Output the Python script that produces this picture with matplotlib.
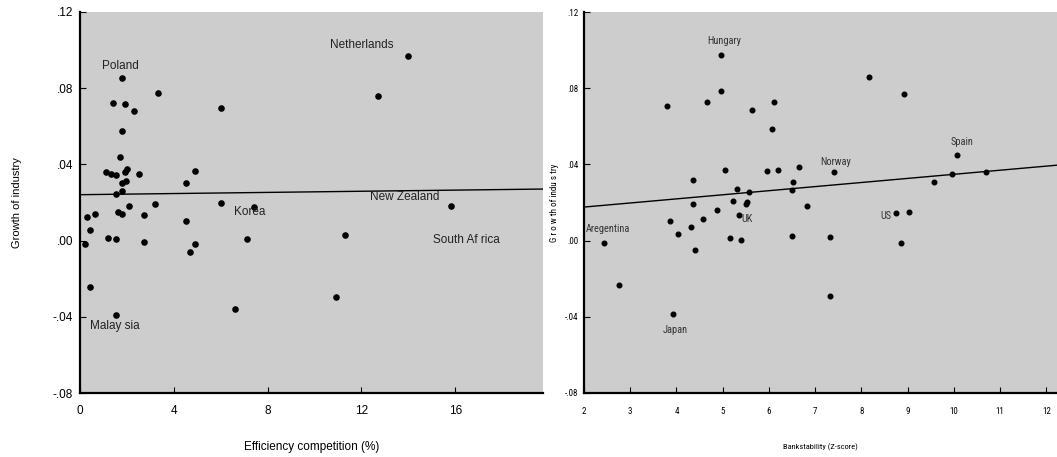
import matplotlib
matplotlib.use("Agg")
import matplotlib.pyplot as plt
import numpy as np

# Painel esquerdo: competicao de eficiencia vs crescimento da industria
eff_x = [14.0, 1.80, 3.31, 12.69, 1.41, 1.92, 2.30, 6.01, 1.80, 1.72,
         1.11, 1.31, 1.52, 2.02, 1.92, 2.53, 4.90, 4.51, 1.80, 1.97,
         1.80, 1.52, 3.20, 2.10, 6.01, 7.42, 15.81, 1.61, 1.80, 2.72,
         0.63, 0.31, 4.51, 0.41, 1.21, 1.52, 2.72, 0.21, 4.90, 4.70,
         7.12, 11.30, 0.41, 10.90, 6.61, 1.52]
eff_y = [0.0969, 0.0855, 0.0776, 0.0759, 0.0720, 0.0718, 0.0680, 0.0696, 0.0575, 0.0437,
         0.0360, 0.0350, 0.0343, 0.0374, 0.0358, 0.0348, 0.0364, 0.0302, 0.0302, 0.0311,
         0.0260, 0.0245, 0.0192, 0.0182, 0.0198, 0.0175, 0.0182, 0.0152, 0.0142, 0.0133,
         0.0140, 0.0124, 0.0103, 0.0058, 0.0016, 0.0009, -0.0007, -0.0016, -0.0019, -0.0059,
         0.0009, 0.0028, -0.0241, -0.0297, -0.0358, -0.0392]
eff_fit = (0.0241, 0.00015)  # intercepto, inclinacao
eff_labels = ["Netherlands", "Poland", "New Zealand", "Korea", "South Af rica", "Malay sia"]
eff_label_pos = [(12.0, 0.1027), (1.74, 0.0918), (13.86, 0.0227), (7.25, 0.0148),
                 (16.46, 0.0005), (1.49, -0.0446)]

# Painel direito: estabilidade bancaria vs crescimento da industria
bank_x = [4.97, 4.96, 3.79, 4.65, 5.63, 6.10, 6.06, 8.16, 8.92, 5.06,
          5.95, 6.19, 6.64, 7.40, 10.07, 9.95, 10.69, 9.56, 4.35, 6.52,
          5.31, 5.56, 6.49, 5.23, 5.53, 5.51, 4.35, 6.82, 4.87, 5.36,
          4.58, 3.86, 8.74, 9.02, 4.31, 2.43, 4.03, 5.15, 5.40, 4.39,
          6.49, 7.31, 8.86, 2.76, 3.93, 7.33]
bank_y = [0.0976, 0.0785, 0.0705, 0.0728, 0.0687, 0.0729, 0.0586, 0.0860, 0.0768, 0.0372,
          0.0366, 0.0368, 0.0384, 0.0358, 0.0447, 0.0351, 0.0358, 0.0310, 0.0319, 0.0310,
          0.0271, 0.0255, 0.0267, 0.0208, 0.0204, 0.0194, 0.0190, 0.0183, 0.0159, 0.0134,
          0.0114, 0.0101, 0.0143, 0.0148, 0.0070, -0.0010, 0.0033, 0.0016, 0.0002, -0.0051,
          0.0025, 0.0017, -0.0012, -0.0234, -0.0384, -0.0290]
bank_fit = (0.0133, 0.00215)
bank_labels = ["Hungary", "Norway", "Spain", "UK", "US", "Aregentina", "Japan"]
bank_label_pos = [(5.04, 0.1049), (7.45, 0.0412), (10.17, 0.0515), (5.53, 0.0115),
                  (8.53, 0.0127), (2.51, 0.0063), (3.97, -0.047)]

y_ticks = [-0.08, -0.04, 0.0, 0.04, 0.08, 0.12]
y_ticklabels = ["-.08", "-.04", ".00", ".04", ".08", ".12"]
eff_ticks = [0, 4, 8, 12, 16]
bank_ticks = list(range(2, 13))

fundo = "#cdcdcd"
sans = ["Liberation Sans", "DejaVu Sans"]
narrow = ["Roboto Condensed", "DejaVu Sans"]

fig = plt.figure(figsize=(10.57, 4.57), dpi=100)
ax1 = fig.add_axes([80 / 1057, 1 - 393 / 457, 463 / 1057, 381 / 457])
ax2 = fig.add_axes([584 / 1057, 1 - 393 / 457, 473 / 1057, 381 / 457])


def estilo(ax, familia, tam):
    ax.set_facecolor(fundo)
    for lado in ["top", "right"]:
        ax.spines[lado].set_visible(False)
    for lado in ["left", "bottom"]:
        ax.spines[lado].set_linewidth(1.6)
    ax.set_ylim(-0.08, 0.12)
    ax.set_yticks(y_ticks)
    ax.set_yticklabels(y_ticklabels, family=familia, fontsize=tam)
    ax.tick_params(direction="in", length=4, width=0.8, pad=5)


# esquerdo
estilo(ax1, sans, 8.5)
ax1.set_xlim(0, 19.74)
ax1.set_xticks(eff_ticks)
ax1.set_xticklabels([str(t) for t in eff_ticks], family=sans, fontsize=8.5)
ax1.tick_params(axis="x", pad=9)
ax1.scatter(eff_x, eff_y, s=14, color="black", zorder=3)
xs = np.array(ax1.get_xlim())
ax1.plot(xs, eff_fit[0] + eff_fit[1] * xs, color="black", lw=1)
for txt, (tx, ty) in zip(eff_labels, eff_label_pos):
    ax1.text(tx, ty, txt, ha="center", va="center", fontsize=8.5,
             family=sans, color="#222222")
ax1.set_xlabel("Efficiency competition (%)", family=sans, fontsize=8.5, labelpad=17)
ax1.set_ylabel("Growth of industry", family=sans, fontsize=8, labelpad=22)

# direito
estilo(ax2, narrow, 6.5)
ax2.set_xlim(2, 12.23)
ax2.set_xticks(bank_ticks)
ax2.set_xticklabels([str(t) for t in bank_ticks], family=narrow, fontsize=6.5)
ax2.tick_params(axis="x", pad=10)
ax2.tick_params(axis="y", pad=4)
ax2.scatter(bank_x, bank_y, s=11, color="black", zorder=3)
xs = np.array(ax2.get_xlim())
ax2.plot(xs, bank_fit[0] + bank_fit[1] * xs, color="black", lw=1)
for txt, (tx, ty) in zip(bank_labels, bank_label_pos):
    ax2.text(tx, ty, txt, ha="center", va="center", fontsize=7.5,
             family=narrow, color="#333333")
ax2.set_xlabel("Bankstability (Z-score)", family=narrow, fontsize=6, labelpad=20)
ax2.set_ylabel("G r o w th of indu s try", family=narrow, fontsize=6.5, labelpad=4)

fig.savefig("out.png", dpi=100)
